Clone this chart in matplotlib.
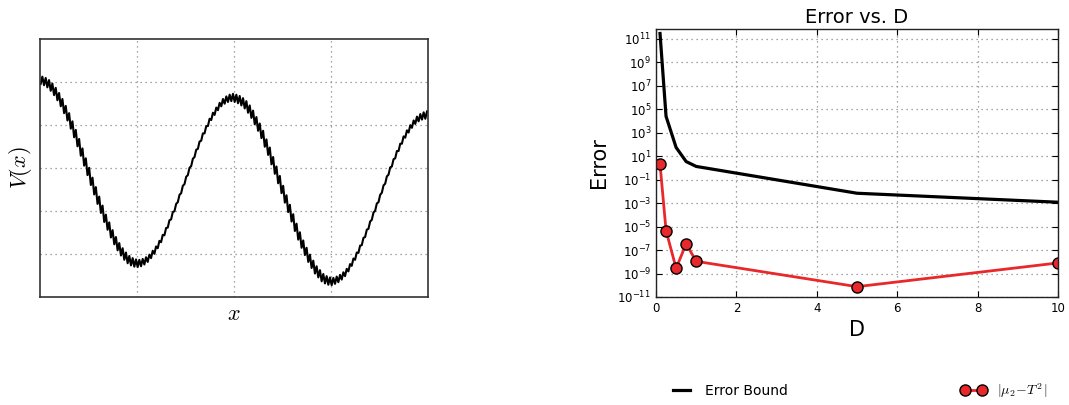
import numpy as np
import matplotlib
matplotlib.use("Agg")
import matplotlib.pyplot as plt
from matplotlib.font_manager import FontProperties
from matplotlib.ticker import FixedLocator, NullFormatter, NullLocator

# ---------------- data: left panel (potential V(x)) ----------------
# centre line of V(x) for each of the 116 small ripples (axis units 0..6)
v_centre = [
    5.04, 5.01, 4.96, 4.88, 4.78, 4.66, 4.52, 4.36, 4.19, 4.00, 3.80, 3.59,
    3.37, 3.14, 2.92, 2.69, 2.47, 2.25, 2.04, 1.83, 1.65, 1.47, 1.31, 1.17,
    1.05, 0.95, 0.87, 0.82, 0.79, 0.78, 0.80, 0.84, 0.90, 0.99, 1.09, 1.22,
    1.36, 1.52, 1.70, 1.89, 2.08, 2.29, 2.50, 2.71, 2.92, 3.13, 3.34, 3.53,
    3.72, 3.89, 4.06, 4.20, 4.32, 4.43, 4.52, 4.58, 4.62, 4.64,
    4.62, 4.59, 4.54, 4.47, 4.37, 4.25, 4.10, 3.95, 3.78, 3.58, 3.39, 3.17,
    2.95, 2.73, 2.50, 2.28, 2.06, 1.84, 1.62, 1.42, 1.23, 1.06, 0.90, 0.76,
    0.63, 0.54, 0.45, 0.40, 0.37, 0.36, 0.39, 0.43, 0.49, 0.57, 0.68, 0.81,
    0.95, 1.11, 1.29, 1.48, 1.67, 1.88, 2.09, 2.29, 2.51, 2.72, 2.93, 3.12,
    3.31, 3.48, 3.65, 3.79, 3.91, 4.02, 4.11, 4.17, 4.21, 4.23,
]
ripple_half = 0.085          # half peak-to-peak of the small ripple

# ---------------- data: right panel ----------------
D_values = [0.1, 0.25, 0.5, 0.75, 1.0, 5.0, 10.0]
error_bound = [2.9e11, 2.5e4, 56.0, 3.5, 1.35, 7.0e-3, 1.2e-3]
error_actual = [2.1, 4.6e-6, 2.8e-9, 3.4e-7, 1.1e-8, 7.6e-11, 8.0e-9]
y_tick_exps = [-11, -9, -7, -5, -3, -1, 1, 3, 5, 7, 9, 11]
x_ticks = [0, 2, 4, 6, 8, 10]
title = "Error vs. D"
label_bound = "Error Bound"
label_actual = r"$|\mu_2\!-\!T^2\,|$"

# ---------------- figure ----------------
W, H = 1069, 405
fig = plt.figure(figsize=(W / 100, H / 100), dpi=100)

def frac(x0, y0, x1, y1):
    return [x0 / W, 1 - y1 / H, (x1 - x0) / W, (y1 - y0) / H]

# ---- left panel ----
axL = fig.add_axes(frac(40, 39, 428, 297))
n = len(v_centre)
xs, ys = [], []
for i, c in enumerate(v_centre):
    xs.append((i + 0.2) / n)
    ys.append(c - ripple_half)
    xs.append((i + 0.7) / n)
    ys.append(c + ripple_half)
axL.plot(xs, ys, color="black", lw=1.5)
axL.set_xlim(0, 1)
axL.set_ylim(0, 6)
axL.xaxis.set_major_locator(FixedLocator([0.25, 0.5, 0.75]))
axL.yaxis.set_major_locator(FixedLocator([1, 2, 3, 4, 5]))
axL.tick_params(length=0, labelbottom=False, labelleft=False)
axL.grid(True, linestyle=(0, (1, 3)), color="#888888", lw=0.9)
for s in axL.spines.values():
    s.set_color("#333333")
    s.set_linewidth(1.2)
axL.set_xlabel("$x$", fontsize=16, math_fontfamily="cm", labelpad=5)
axL.set_ylabel("$V(x)$", fontsize=16, math_fontfamily="cm", labelpad=4)

# ---- right panel ----
axR = fig.add_axes(frac(656, 29, 1058, 297))
l1, = axR.plot(D_values, error_bound, color="black", lw=2.3, label=label_bound)
l2, = axR.plot(D_values, error_actual, color="#e8282a", lw=2.0, marker="o",
               markersize=8, markerfacecolor="#e8282a", markeredgecolor="black",
               markeredgewidth=1.0, label=label_actual)
axR.set_yscale("log")
axR.set_xlim(0, 10)
axR.set_ylim(1e-11, 7e11)
axR.yaxis.set_major_locator(FixedLocator([10.0 ** e for e in y_tick_exps]))
axR.yaxis.set_minor_locator(NullLocator())
axR.xaxis.set_major_locator(FixedLocator(x_ticks))
axR.tick_params(direction="in", top=True, right=True, labelsize=8.5, length=4)
axR.grid(True, linestyle=(0, (1, 3)), color="#888888", lw=0.9)
for s in axR.spines.values():
    s.set_color("#222222")
    s.set_linewidth(1.0)
axR.set_title(title, fontsize=14, pad=4)
axR.set_xlabel("D", fontsize=15, labelpad=4)
axR.set_ylabel("Error", fontsize=15, labelpad=6)

leg = fig.legend([l1, l2], [label_bound, label_actual], loc="lower left",
                 bbox_to_anchor=(0.614, -0.018, 0.378, 0.075), ncol=2,
                 mode="expand", frameon=False, numpoints=2, handlelength=1.8,
                 prop=FontProperties(size=10, math_fontfamily="cm"))

fig.savefig("out.png", dpi=100)
